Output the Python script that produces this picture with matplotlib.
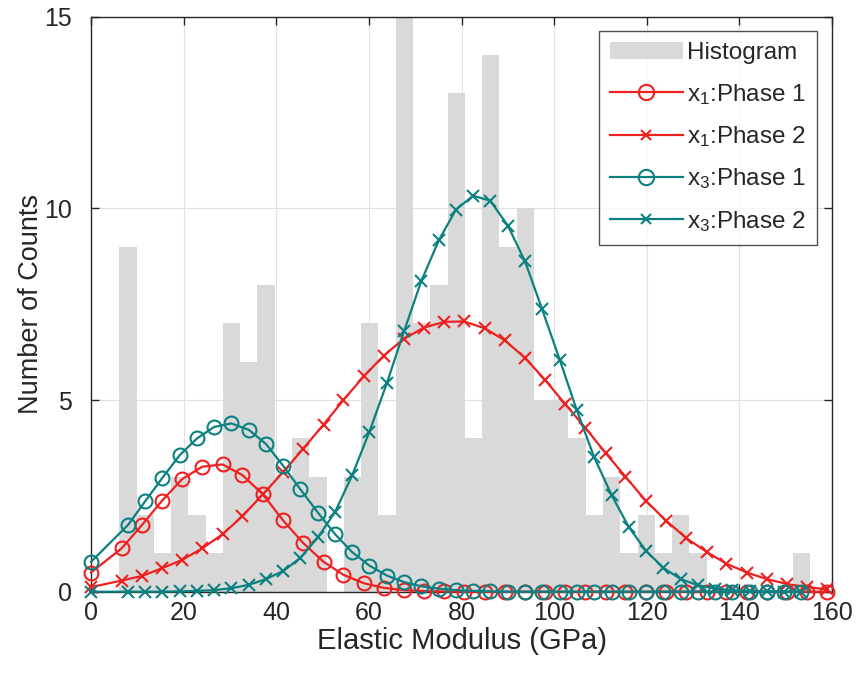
import numpy as np
import matplotlib
matplotlib.use("Agg")
import matplotlib.pyplot as plt
from matplotlib.patches import Patch
from matplotlib.lines import Line2D

plt.rcParams['font.family'] = ['Liberation Sans', 'DejaVu Sans']
plt.rcParams['mathtext.fontset'] = 'custom'
plt.rcParams['mathtext.rm'] = 'Liberation Sans'
plt.rcParams['mathtext.it'] = 'Liberation Sans:italic'

# ---------------- data ----------------
hist_first_edge = 6.1
hist_last_edge = 155.3
hist_counts = [9, 2, 1, 3, 2, 1, 7, 6, 8, 3,
               4, 3, 0, 3, 7, 2, 15, 7, 8, 13,
               4, 14, 9, 10, 5, 5, 4, 2, 3, 1,
               2, 1, 2, 1, 0, 0, 0, 0, 0, 1]

# x1 curves (red)
x1_pos = [0, 6.6, 11.0, 15.3, 19.7, 24.0, 28.4, 32.7, 37.1, 41.4, 45.8, 50.2,
          54.5, 58.9, 63.2, 67.6, 71.9, 76.3, 80.6, 85.0, 89.3, 93.7, 98.0,
          102.4, 106.7, 111.1, 115.4, 119.8, 124.2, 128.5, 132.9, 137.2, 141.6,
          145.9, 150.3, 154.6, 159.0]
x1_phase1 = [0.50, 1.13, 1.74, 2.37, 2.94, 3.26, 3.32, 3.04, 2.54, 1.87, 1.27, 0.78,
             0.44, 0.22, 0.10, 0.04, 0.015, 0.005, 0, 0, 0, 0, 0,
             0, 0, 0, 0, 0, 0, 0, 0, 0, 0,
             0, 0, 0, 0]
x1_phase2 = [0.12, 0.29, 0.41, 0.61, 0.83, 1.13, 1.50, 1.97, 2.54, 3.11, 3.73, 4.36,
             5.00, 5.62, 6.16, 6.60, 6.89, 7.04, 7.05, 6.87, 6.56, 6.10, 5.53,
             4.89, 4.28, 3.62, 3.00, 2.37, 1.85, 1.40, 1.04, 0.73, 0.50,
             0.33, 0.20, 0.12, 0.06]

# x3 curves (teal)
x3_pos = [0, 7.97, 11.7, 15.4, 19.2, 22.9, 26.6, 30.3, 34.1, 37.8, 41.5, 45.2,
          49.0, 52.7, 56.4, 60.1, 63.9, 67.6, 71.3, 75.1, 78.8, 82.5, 86.2,
          90.0, 93.7, 97.4, 101.2, 104.9, 108.6, 112.4, 116.1, 119.8, 123.6,
          127.3, 131.0, 134.8, 138.5, 142.2, 146.0, 149.7, 153.4]
x3_phase1 = [0.78, 1.74, 2.36, 2.97, 3.57, 4.00, 4.30, 4.39, 4.22, 3.85, 3.28, 2.67,
             2.06, 1.50, 1.03, 0.68, 0.42, 0.25, 0.14, 0.08, 0.04, 0.02, 0.01,
             0, 0, 0, 0, 0, 0, 0, 0, 0, 0,
             0, 0, 0, 0, 0, 0, 0, 0]
x3_phase2 = [0, 0, 0, 0, 0.01, 0.02, 0.04, 0.09, 0.18, 0.33, 0.54, 0.88,
             1.42, 2.08, 3.04, 4.17, 5.45, 6.80, 8.10, 9.17, 9.97, 10.33, 10.20,
             9.55, 8.62, 7.37, 6.05, 4.73, 3.52, 2.52, 1.69, 1.07, 0.62,
             0.33, 0.17, 0.08, 0.04, 0.02, 0.01, 0, 0]

x_ticks = [0, 20, 40, 60, 80, 100, 120, 140, 160]
y_ticks = [0, 5, 10, 15]

# ---------------- plot ----------------
RED = '#ee2020'
TEAL = '#0b8080'
GRAY = '#d9d9d9'
TXT = '#262626'

fig = plt.figure(figsize=(8.59, 6.83), dpi=100)
ax = fig.add_axes([0.106, 0.1337, 0.8626, 0.8418])

edges = np.linspace(hist_first_edge, hist_last_edge, len(hist_counts) + 1)
ax.bar(edges[:-1], hist_counts, width=np.diff(edges), align='edge',
       color=GRAY, edgecolor='none', zorder=1)

kw = dict(lw=1.6, clip_on=False, zorder=3)
ax.plot(x1_pos, x1_phase1, color=RED, marker='o', ms=10, mfc='none', mew=1.5, **kw)
ax.plot(x1_pos, x1_phase2, color=RED, marker='x', ms=8, mew=1.5, **kw)
ax.plot(x3_pos, x3_phase1, color=TEAL, marker='o', ms=10, mfc='none', mew=1.5, **kw)
ax.plot(x3_pos, x3_phase2, color=TEAL, marker='x', ms=8, mew=1.5, **kw)

ax.set_xlim(0, 160)
ax.set_ylim(0, 15)
ax.set_xticks(x_ticks)
ax.set_yticks(y_ticks)
ax.grid(True, color='#e0e0e0', lw=0.8, zorder=0)
ax.set_axisbelow(True)
ax.tick_params(direction='in', length=6, width=1, top=True, right=True,
               labelsize=18, colors=TXT)
ax.tick_params(axis='x', pad=7)
ax.tick_params(axis='y', pad=14)
for s in ax.spines.values():
    s.set_color('#262626')
    s.set_linewidth(1)

ax.set_xlabel('Elastic Modulus (GPa)', fontsize=21, color=TXT, labelpad=1)
ax.set_ylabel('Number of Counts', fontsize=19.5, color=TXT, labelpad=0)

handles = [
    Patch(facecolor=GRAY, edgecolor='none'),
    Line2D([], [], color=RED, lw=1.6, marker='o', ms=11, mfc='none', mew=1.5),
    Line2D([], [], color=RED, lw=1.6, marker='x', ms=7, mew=1.5),
    Line2D([], [], color=TEAL, lw=1.6, marker='o', ms=11, mfc='none', mew=1.5),
    Line2D([], [], color=TEAL, lw=1.6, marker='x', ms=7, mew=1.5),
]
labels = ['Histogram',
          r'x$_\mathregular{1}$:Phase 1',
          r'x$_\mathregular{1}$:Phase 2',
          r'x$_\mathregular{3}$:Phase 1',
          r'x$_\mathregular{3}$:Phase 2']
leg = ax.legend(handles, labels, loc='upper right', fontsize=17.5,
                frameon=True, fancybox=False, edgecolor='#262626',
                handlelength=3.0, handletextpad=0.2, labelspacing=0.72,
                borderpad=0.45, borderaxespad=0.6)
leg.get_frame().set_linewidth(1)
for t in leg.get_texts():
    t.set_color(TXT)

fig.savefig('out.png', dpi=100)
